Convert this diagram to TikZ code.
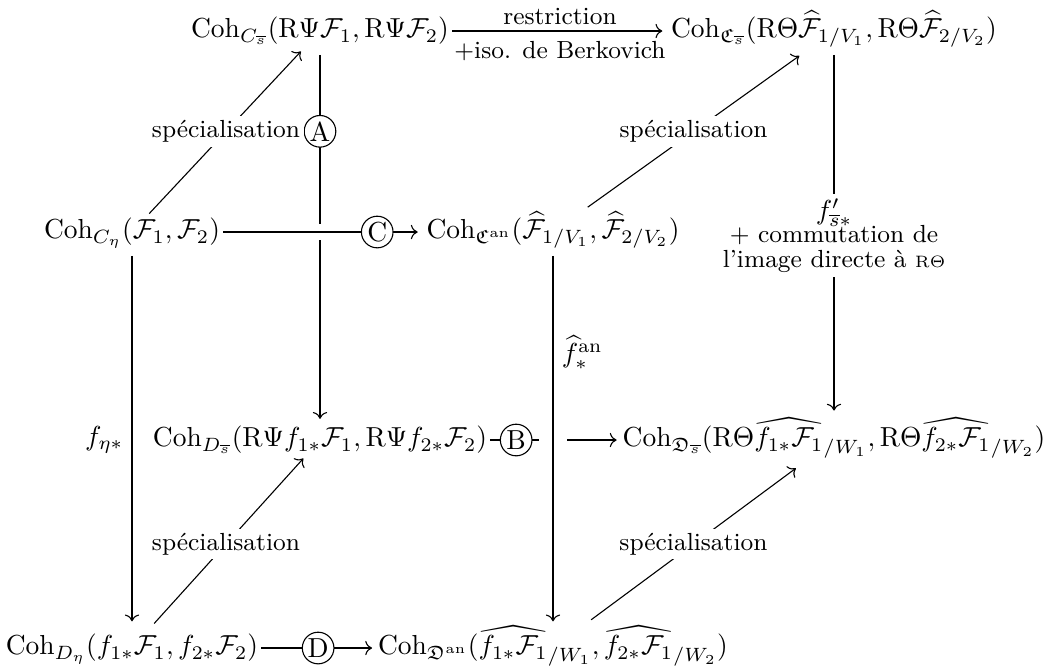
\documentclass[tikz,border=0pt]{standalone}
\usepackage{amsmath}
\usepackage{amssymb}
\usepackage{tikz}
\usetikzlibrary{arrows.meta}

\newcommand{\Coh}{\mathrm{Coh}}
\newcommand{\RPsi}{\mathrm{R}\Psi}
\newcommand{\RTheta}{\mathrm{R}\Theta}
\newcommand{\sbar}{\overline{s}}
\newcommand{\cF}{\mathcal{F}}

\tikzset{
  obj/.style={inner sep=1pt, text height=8pt, text depth=3pt},
  lbl/.style={font=\small, fill=white, inner sep=1.5pt},
  lab/.style={font=\small, inner sep=2pt},
  mlab/.style={inner sep=2pt},
  lettre/.style={circle, draw, fill=white, inner sep=0pt, minimum size=11.5pt},
  fl/.style={-{Computer Modern Rightarrow}},
}

\begin{document}
\begin{tikzpicture}[x=0.3636pt, y=-0.3636pt]
  \useasboundingbox (0,0) rectangle (1045,667);
  % les huit objets du cube
  \node[obj] (Cs)   at (320,31)  {$\Coh_{C_{\sbar}}(\RPsi\cF_1,\RPsi\cF_2)$};
  \node[obj] (Ccs)  at (834,31)  {$\Coh_{\mathfrak{C}_{\sbar}}(\RTheta\widehat{\cF}_{1/V_1},\RTheta\widehat{\cF}_{2/V_2})$};
  \node[obj] (Ceta) at (132,232) {$\Coh_{C_\eta}(\cF_1,\cF_2)$};
  \node[obj] (Can)  at (553,232) {$\Coh_{\mathfrak{C}^{\mathrm{an}}}(\widehat{\cF}_{1/V_1},\widehat{\cF}_{2/V_2})$};
  \node[obj] (Ds)   at (320,440) {$\Coh_{D_{\sbar}}(\RPsi f_{1*}\cF_1,\RPsi f_{2*}\cF_2)$};
  \node[obj] (Dcs)  at (834,440) {$\Coh_{\mathfrak{D}_{\sbar}}(\RTheta\widehat{f_{1*}\cF_1}_{/W_1},\RTheta\widehat{f_{2*}\cF_1}_{/W_2})$};
  \node[obj] (Deta) at (132,648) {$\Coh_{D_\eta}(f_{1*}\cF_1,f_{2*}\cF_2)$};
  \node[obj] (Dan)  at (553,648) {$\Coh_{\mathfrak{D}^{\mathrm{an}}}(\widehat{f_{1*}\cF_1}_{/W_1},\widehat{f_{2*}\cF_1}_{/W_2})$};

  % face arriere
  \draw[fl, shorten <=2pt, shorten >=1pt] (Cs) -- (Ds) node[lettre, pos=0.22] {A};
  \draw[fl, shorten >=2pt, preaction={draw, white, line width=6pt, -}] (Ceta) -- (Can) node[lettre, pos=0.77] {C};
  \draw[fl, shorten >=1pt] (Ds) -- (Dcs) node[lettre, pos=0.2] {B};
  \draw[fl, shorten <=2pt, shorten >=3pt, preaction={draw, white, line width=10pt, -}] (Can) -- (Dan)
    node[mlab, pos=0.27, right=1pt] {$\widehat{f}^{\mathrm{an}}_*$};

  % fleches horizontales
  \draw[fl, shorten >=2pt] (Cs) -- (Ccs)
    node[lab, midway, above] {restriction}
    node[lab, midway, below=1.5pt] {+iso. de Berkovich};
  \draw[fl, shorten >=1pt] (Deta) -- (Dan) node[lettre, midway] {D};

  % fleches verticales
  \draw[fl, shorten <=2pt, shorten >=3pt] (Ceta) -- (Deta) node[mlab, midway, left=1pt] {$f_{\eta*}$};
  \draw[fl, shorten <=2pt, shorten >=4pt] (Ccs) -- (Dcs)
    node[lbl, midway, align=center] {\normalsize$f'_{\sbar*}$\\[-2.5pt]+ commutation de\\[-2pt]l'image directe à $\scriptstyle\RTheta$};

  % specialisation
  \draw[fl, shorten >=1pt] (Ceta) -- (Cs) node[lbl, midway] {spécialisation};
  \draw[fl, shorten <=4pt, shorten >=4pt] (Can) -- (Ccs) node[lbl, midway] {spécialisation};
  \draw[fl, shorten <=3pt] (Deta) -- (Ds) node[lbl, midway] {spécialisation};
  \draw[fl, shorten <=6pt, shorten >=6pt] (Dan) -- (Dcs) node[lbl, midway] {spécialisation};
\end{tikzpicture}
\end{document}
